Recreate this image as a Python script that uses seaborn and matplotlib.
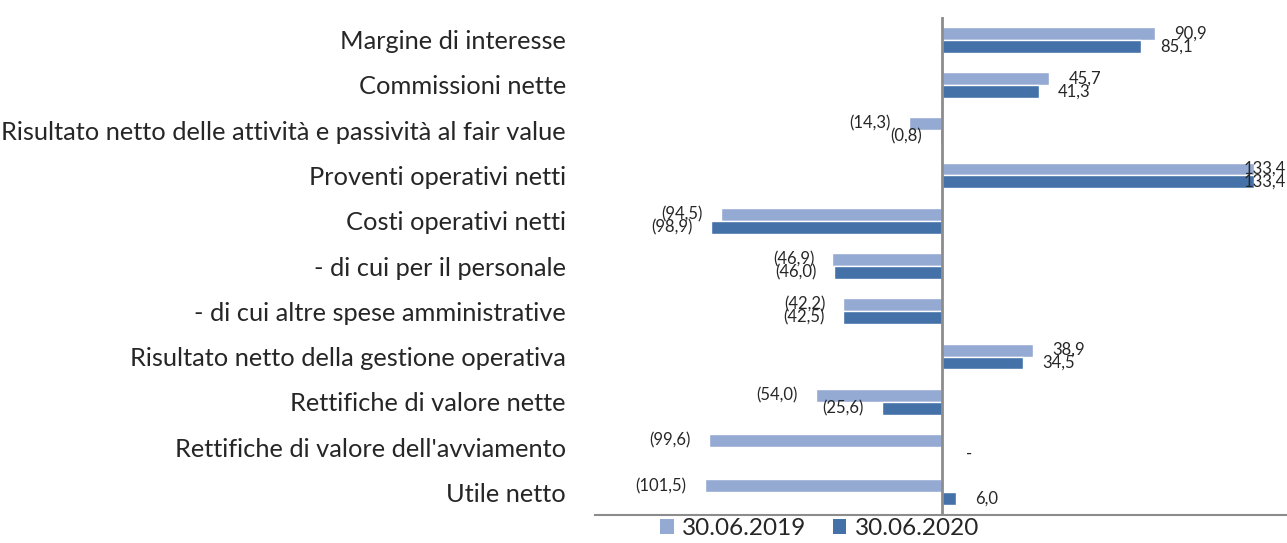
import pandas as pd
import numpy as np
import matplotlib.pyplot as plt
import seaborn as sns
from matplotlib.patches import Patch

# --- dati ---
categorie = [
    "Margine di interesse",
    "Commissioni nette",
    "Risultato netto delle attività e passività al fair value",
    "Proventi operativi netti",
    "Costi operativi netti",
    "- di cui per il personale",
    "- di cui altre spese amministrative",
    "Risultato netto della gestione operativa",
    "Rettifiche di valore nette",
    "Rettifiche di valore dell'avviamento",
    "Utile netto",
]
valori_2019 = [90.9, 45.7, -14.3, 133.4, -94.5, -46.9, -42.2, 38.9, -54.0, -99.6, -101.5]
valori_2020 = [85.1, 41.3, -0.8, 133.4, -98.9, -46.0, -42.5, 34.5, -25.6, 0.0, 6.0]
serie = ["30.06.2019", "30.06.2020"]
colori = ["#95AAD3", "#4472A8"]

df = pd.DataFrame({
    "Voce": categorie * 2,
    "Valore": valori_2019 + valori_2020,
    "Periodo": [serie[0]] * len(categorie) + [serie[1]] * len(categorie),
})

sns.set_style("white")
plt.rcParams["font.family"] = ["Lato", "DejaVu Sans"]

fig = plt.figure(figsize=(12.87, 5.43), dpi=100)
ax = fig.add_axes([0.4623, 0.0516, 0.5377, 0.917])

sns.barplot(data=df, y="Voce", x="Valore", hue="Periodo", hue_order=serie,
            palette=colori, orient="h", width=0.57, saturation=1,
            legend=False, ax=ax)

ax.set_xlim(-148.3, 147.4)
ax.set_ylim(len(categorie) - 0.5, -0.5)

def fmt(v):
    if v == 0:
        return "-"
    s = f"{abs(v):.1f}".replace(".", ",")
    return f"({s})" if v < 0 else s

# etichette valori
for cont, valori in zip(ax.containers, [valori_2019, valori_2020]):
    for rect, v in zip(cont, valori):
        y = rect.get_y() + rect.get_height() / 2
        if v < 0:
            ax.annotate(fmt(v), (v, y), xytext=(-13, 0), textcoords="offset points",
                        ha="right", va="center", fontsize=12)
        else:
            off = 17 if v == 0 else 14
            if v > 120:  # barra lunga: etichetta sovrapposta alla fine della barra
                off = -8
            ax.annotate(fmt(v), (v, y), xytext=(off, 0), textcoords="offset points",
                        ha="left", va="center", fontsize=12)

ax.axvline(0, color="#8C8C8C", lw=2, zorder=5)
for s in ["top", "right", "left"]:
    ax.spines[s].set_visible(False)
ax.spines["bottom"].set_color("#8C8C8C")
ax.spines["bottom"].set_linewidth(1.5)
ax.set_xticks([])
ax.set_xlabel("")
ax.set_ylabel("")
ax.tick_params(axis="y", length=0, pad=21, labelsize=18.3)

handles = [Patch(facecolor=c, edgecolor="none", label=s) for c, s in zip(colori, serie)]
fig.legend(handles=handles, loc="center", bbox_to_anchor=(0.637, 0.026), ncol=2,
           frameon=False, fontsize=17.5, handlelength=0.55, handleheight=0.55,
           handletextpad=0.35, columnspacing=1.1)

fig.savefig("out.png", dpi=100)
